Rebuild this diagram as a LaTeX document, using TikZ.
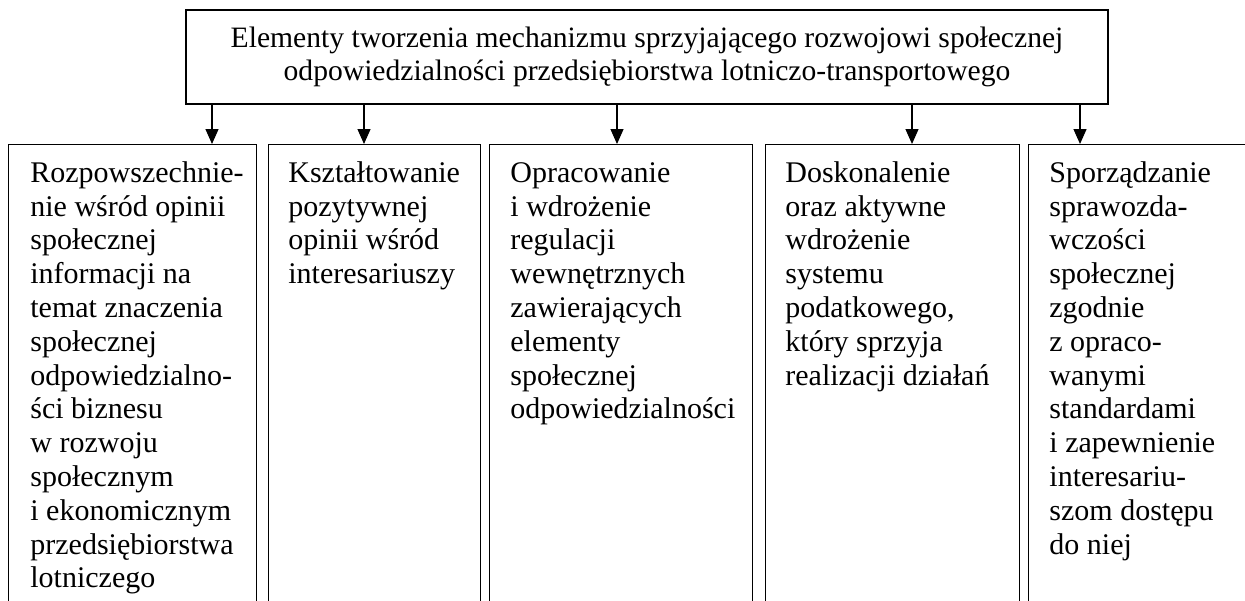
\documentclass[tikz,border=0pt]{standalone}
\usepackage{fontspec}
\setmainfont{Liberation Serif}
\usetikzlibrary{arrows.meta}
\begin{document}
\begin{tikzpicture}[x=0.5pt,y=-0.5pt,
  boxline/.style={draw=black,line width=0.65pt},
  topbox/.style={boxline,rectangle,inner sep=0pt,align=center,
    font=\fontsize{14.8pt}{16.9pt}\selectfont},
  colbox/.style={boxline,rectangle,inner sep=0pt,anchor=north west},
  coltext/.style={inner sep=0pt,anchor=north west,align=left,
    font=\fontsize{15pt}{16.9pt}\selectfont},
  arr/.style={line width=0.65pt,-{Triangle[width=6.5pt,length=7.5pt]}}]
\clip (0,0) rectangle (1245,600);
\fill[white] (0,0) rectangle (1245,600);
% top box
\node[topbox,minimum width=461pt,minimum height=47pt] (top) at (647,57)
  {Elementy tworzenia mechanizmu sprzyjającego rozwojowi społecznej\\
   odpowiedzialności przedsiębiorstwa lotniczo-transportowego};
% column boxes
\node[colbox,minimum width=124pt,minimum height=240pt] (b1) at (8,144) {};
\node[colbox,minimum width=106pt,minimum height=240pt] (b2) at (268,144) {};
\node[colbox,minimum width=131.5pt,minimum height=240pt] (b3) at (489,144) {};
\node[colbox,minimum width=127pt,minimum height=240pt] (b4) at (765,144) {};
\node[colbox,minimum width=120pt,minimum height=240pt] (b5) at (1028,144) {};
% texts (first baseline at y = 182)
\node[coltext] (t1) at (30,158.3) {\strut Rozpowszechnie-\\nie wśród opinii\\społecznej\\informacji na\\temat znaczenia\\społecznej\\odpowiedzialno-\\ści biznesu\\w rozwoju\\społecznym\\i ekonomicznym\\przedsiębiorstwa\\lotniczego};
\node[coltext] (t2) at (288,158.3) {\strut Kształtowanie\\pozytywnej\\opinii wśród\\interesariuszy};
\node[coltext] (t3) at (510,158.3) {\strut Opracowanie\\i wdrożenie\\regulacji\\wewnętrznych\\zawierających\\elementy\\społecznej\\odpowiedzialności};
\node[coltext] (t4) at (785,158.3) {\strut Doskonalenie\\oraz aktywne\\wdrożenie\\systemu\\podatkowego,\\który sprzyja\\realizacji działań};
\node[coltext] (t5) at (1049,158.3) {\strut Sporządzanie\\sprawozda-\\wczości\\społecznej\\zgodnie\\z opraco-\\wanymi\\standardami\\i zapewnienie\\interesariu-\\szom dostępu\\do niej};
% arrows
\coordinate (x1) at (212,0);
\coordinate (x2) at (364,0);
\coordinate (x3) at (617,0);
\coordinate (x4) at (912,0);
\coordinate (x5) at (1080,0);
\draw[arr] (top.south -| x1) -- (b1.north -| x1);
\draw[arr] (top.south -| x2) -- (b2.north -| x2);
\draw[arr] (top.south -| x3) -- (b3.north -| x3);
\draw[arr] (top.south -| x4) -- (b4.north -| x4);
\draw[arr] (top.south -| x5) -- (b5.north -| x5);
\end{tikzpicture}
\end{document}
